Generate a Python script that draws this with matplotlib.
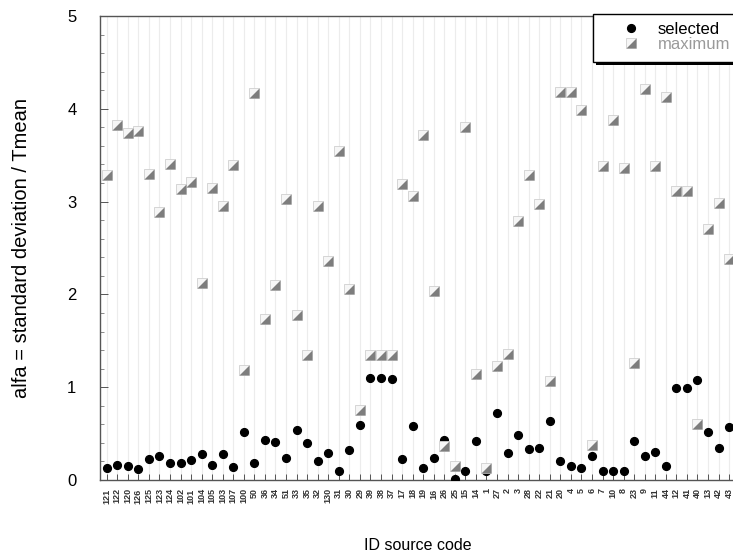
import matplotlib
matplotlib.use("Agg")
import matplotlib.pyplot as plt
from matplotlib.path import Path
from matplotlib.patches import Rectangle
from matplotlib.ticker import MultipleLocator
import numpy as np

plt.rcParams['font.family'] = ['Liberation Sans', 'DejaVu Sans']

# source IDs in plotting order
source_ids = ['121', '122', '120', '126', '125', '123', '124', '102', '101', '104',
              '105', '103', '107', '100', '50', '36', '34', '51', '33', '35',
              '32', '130', '31', '30', '29', '39', '38', '37', '17', '18',
              '19', '16', '26', '25', '15', '14', '1', '27', '2', '3',
              '28', '22', '21', '20', '4', '5', '6', '7', '10', '8',
              '23', '9', '11', '44', '12', '41', '40', '13', '42', '43']

alfa_selected = [0.13, 0.16, 0.15, 0.115, 0.23, 0.26, 0.18, 0.18, 0.22, 0.28,
                 0.165, 0.28, 0.14, 0.52, 0.18, 0.43, 0.41, 0.24, 0.54, 0.40,
                 0.20, 0.29, 0.10, 0.32, 0.59, 1.10, 1.10, 1.09, 0.23, 0.58,
                 0.13, 0.24, 0.43, 0.01, 0.10, 0.42, 0.10, 0.72, 0.29, 0.48,
                 0.33, 0.35, 0.64, 0.20, 0.15, 0.13, 0.26, 0.10, 0.10, 0.10,
                 0.42, 0.26, 0.30, 0.15, 0.99, 0.99, 1.08, 0.52, 0.34, 0.57]

alfa_maximum = [3.29, 3.83, 3.74, 3.76, 3.30, 2.89, 3.41, 3.14, 3.21, 2.12,
                3.15, 2.95, 3.39, 1.19, 4.17, 1.74, 2.10, 3.03, 1.78, 1.35,
                2.95, 2.36, 3.55, 2.06, 0.75, 1.35, 1.35, 1.35, 3.19, 3.06,
                3.72, 2.04, 0.37, 0.15, 3.80, 1.14, 0.13, 1.23, 1.36, 2.79,
                3.29, 2.97, 1.07, 4.18, 4.18, 3.99, 0.38, 3.38, 3.88, 3.36,
                1.26, 4.21, 3.38, 4.13, 3.11, 3.11, 0.60, 2.70, 2.99, 2.38]

# lower-right half of a square, drawn over a light square
half_square = Path([(-1, -1), (1, -1), (1, 1), (-1, -1)],
                   [Path.MOVETO, Path.LINETO, Path.LINETO, Path.CLOSEPOLY])

W, H = 733, 554
fig = plt.figure(figsize=(W / 100, H / 100), dpi=100)

x = np.arange(len(source_ids))
x_lo, x_hi = -0.635, len(source_ids) - 0.4
step_px = 10.55
ax = fig.add_axes([100 / W, 74 / H, (x_hi - x_lo) * step_px / W, 464 / H])

for xi in x:
    ax.axvline(xi, color='#ececec', lw=0.8, zorder=0)

dots, = ax.plot(x, alfa_selected, 'o', color='black', ms=5.6, ls='none', zorder=3)
box, = ax.plot(x, alfa_maximum, 's', ms=7.8, mfc='#f6f6f6', mec='#cfcfcf',
               mew=0.6, ls='none', zorder=4)
shade, = ax.plot(x, alfa_maximum, marker=half_square, ms=7.8, mfc='#7d7d7d',
                 mec='none', ls='none', zorder=5)

ax.set_xlim(x_lo, x_hi)
ax.set_ylim(0, 5)

ax.set_xticks(x)
ax.set_xticklabels(source_ids, rotation=90, fontsize=6.5, fontweight='bold',
                   color='#333333')
ax.tick_params(axis='x', direction='in', length=4, width=0.7, color='#555555', pad=6)

ax.yaxis.set_major_locator(MultipleLocator(1))
ax.yaxis.set_minor_locator(MultipleLocator(0.2))
ax.tick_params(axis='y', which='major', direction='in', length=6, width=0.7,
               color='#555555', labelsize=12, pad=17)
ax.tick_params(axis='y', which='minor', direction='in', length=3, width=0.6,
               color='#777777')

ax.spines['right'].set_visible(False)
for side in ('left', 'top', 'bottom'):
    ax.spines[side].set_color('#555555')
    ax.spines[side].set_linewidth(1.0)

ax.set_ylabel('alfa = standard deviation / Tmean', fontsize=14.5, labelpad=26)
ax.set_xlabel('ID source code', fontsize=11.5, labelpad=25)

# legend box with a solid black drop shadow
fig.patches.append(Rectangle((596 / W, 1 - 65 / H), 160 / W, 48 / H,
                             transform=fig.transFigure, facecolor='black',
                             edgecolor='none', zorder=9))
fig.patches.append(Rectangle((593 / W, 1 - 62 / H), 160 / W, 48 / H,
                             transform=fig.transFigure, facecolor='white',
                             edgecolor='black', lw=1.0, zorder=10))

leg = fig.legend([dots, (box, shade)], ['selected', 'maximum'],
                 loc='upper left', bbox_to_anchor=(621 / W, 1 - 22 / H),
                 bbox_transform=fig.transFigure, fontsize=12, frameon=False,
                 borderpad=0, borderaxespad=0, handlelength=1.2,
                 handletextpad=1.0, labelspacing=0.0)
leg.set_zorder(11)
leg.get_texts()[1].set_color('#9a9a9a')

fig.savefig('out.png', dpi=100)
